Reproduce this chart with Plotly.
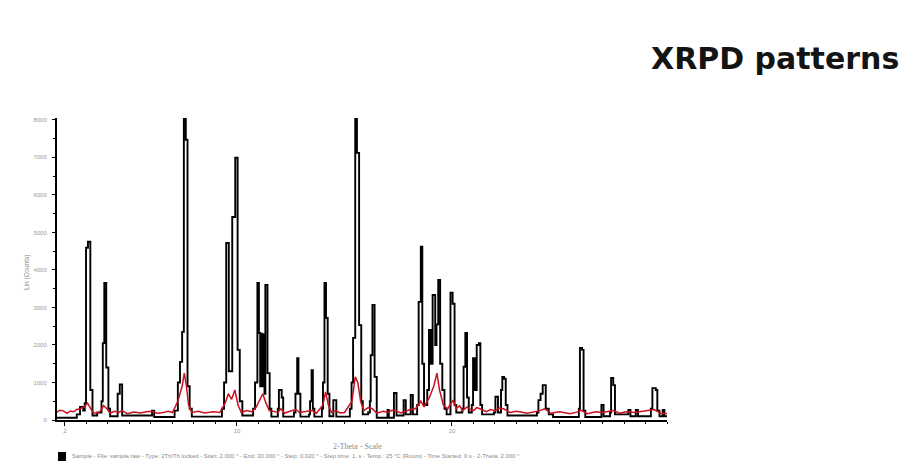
import plotly.graph_objects as go

# ---- data (2-theta in degrees, intensity in counts) ----
black_2theta = [1.60, 2.55, 2.70, 2.85, 2.92, 2.98, 3.07, 3.18, 3.28,
                3.50, 3.70, 3.76, 3.83, 3.92, 4.02, 4.10,
                4.45, 4.55, 4.66,
                6.05, 6.15,
                7.10, 7.25, 7.35, 7.45, 7.53, 7.62, 7.70, 7.80, 7.90,
                9.30, 9.40, 9.50, 9.62, 9.78, 9.92, 10.03, 10.13, 10.25,
                10.75, 10.84, 10.95, 11.02, 11.08, 11.12, 11.18, 11.22, 11.28, 11.32, 11.42, 11.52, 11.60,
                11.90, 11.95, 12.08, 12.15,
                12.65, 12.72, 12.80, 12.86, 12.95,
                13.35, 13.40, 13.47, 13.53, 13.60,
                13.95, 14.00, 14.07, 14.14, 14.22, 14.30,
                14.48, 14.62,
                15.25, 15.33, 15.40, 15.50, 15.58, 15.68, 15.78, 15.85,
                16.10, 16.18, 16.22, 16.30, 16.40, 16.50,
                17.00, 17.06, 17.30, 17.42, 17.75, 17.85, 18.08, 18.18,
                18.38, 18.45, 18.55, 18.62, 18.70,
                18.85, 18.93, 19.02, 19.10, 19.22, 19.28, 19.36, 19.45, 19.55, 19.65,
                19.75, 19.93, 20.03, 20.12, 20.20,
                20.48, 20.54, 20.62, 20.70, 20.78,
                20.92, 20.98, 21.06, 21.15, 21.25, 21.32, 21.40,
                21.95, 22.02, 22.14, 22.28, 22.34, 22.42, 22.50, 22.58,
                23.95, 24.02, 24.12, 24.22, 24.36, 24.50, 24.70,
                25.90, 25.95, 26.05, 26.12, 26.20,
                26.95, 27.05, 27.35, 27.40, 27.50, 27.58,
                28.20, 28.30, 28.55, 28.65,
                29.25, 29.32, 29.48, 29.55, 29.65, 29.80, 29.88, 30.00]
black_counts = [60, 150, 350, 250, 450, 4590, 4750, 800, 120,
                200, 500, 2050, 3650, 1400, 300, 100,
                700, 950, 120,
                250, 80,
                250, 1000, 1550, 2350, 8050, 7470, 900, 300, 90,
                300, 1000, 4720, 1300, 5410, 6990, 1870, 500, 120,
                300, 1000, 3650, 2320, 900, 2300, 900, 2280, 700, 3600, 1250, 300, 90,
                300, 800, 600, 90,
                200, 700, 1650, 700, 90,
                150, 500, 1330, 300, 90,
                300, 1000, 3650, 2720, 700, 100,
                530, 90,
                300, 1000, 2190, 8050, 7120, 2530, 500, 150,
                200, 500, 1730, 3070, 1150, 60,
                270, 60, 720, 120, 530, 150, 670, 150,
                400, 3150, 4620, 1500, 400,
                800, 2400, 1500, 3330, 2000, 2550, 3730, 1500, 800, 300,
                150, 3390, 3100, 400, 200,
                300, 1420, 2320, 600, 200,
                400, 1650, 800, 2000, 2050, 400, 150,
                200, 620, 200, 800, 1150, 1100, 400, 120,
                200, 530, 700, 930, 300, 150, 80,
                300, 1920, 1870, 250, 80,
                400, 100, 200, 1120, 930, 150,
                270, 100, 270, 100,
                300, 850, 800, 250, 100, 270, 100, 100]

red_2theta = [1.6, 1.75, 1.9, 2.1, 2.25, 2.4, 2.55, 2.7, 2.9, 3.05, 3.2, 3.35, 3.6, 3.8, 3.95, 4.1,
              4.3, 4.5, 4.65, 4.9, 5.2, 5.5, 5.8, 6.0, 6.3, 6.5, 6.8, 7.0, 7.25, 7.45, 7.55, 7.65,
              7.75, 7.9, 8.2, 8.5, 8.9, 9.2, 9.45, 9.6, 9.75, 9.9, 10.05, 10.2, 10.45, 10.7, 10.9,
              11.05, 11.2, 11.35, 11.5, 11.7, 11.9, 12.05, 12.2, 12.5, 12.75, 12.9, 13.2, 13.5,
              13.7, 14.0, 14.12, 14.25, 14.4, 14.6, 14.8, 15.0, 15.35, 15.5, 15.62, 15.75, 15.9,
              16.1, 16.3, 16.5, 16.8, 17.0, 17.2, 17.4, 17.6, 17.8, 18.05, 18.3, 18.55, 18.7,
              18.95, 19.15, 19.3, 19.42, 19.6, 19.8, 20.05, 20.2, 20.35, 20.5, 20.7, 20.85, 21.0,
              21.15, 21.3, 21.6, 21.8, 22.0, 22.2, 22.4, 22.7, 23.0, 23.5, 23.8, 24.1, 24.3, 24.6,
              25.0, 25.5, 25.8, 26.0, 26.3, 26.7, 27.0, 27.25, 27.5, 27.8, 28.1, 28.5, 28.9,
              29.4, 29.7, 30.0]
red_counts = [200, 260, 250, 180, 240, 220, 280, 300, 350, 450, 300, 180, 200, 380, 300, 180,
              230, 200, 250, 170, 210, 190, 220, 230, 180, 190, 230, 200, 500, 900, 1250, 900,
              400, 200, 230, 190, 220, 200, 450, 700, 550, 800, 400, 200, 250, 220, 350,
              550, 700, 450, 250, 230, 200, 300, 180, 240, 280, 200, 230, 250,
              180, 400, 750, 400, 200, 250, 190, 200, 500, 1150, 1000, 500, 250,
              330, 300, 180, 230, 200, 260, 250, 190, 220, 280, 300, 500, 350,
              600, 900, 1250, 800, 400, 300, 530, 300, 380, 250, 350, 280, 250,
              330, 300, 220, 280, 250, 320, 300, 200, 230, 180, 220, 250, 300, 180,
              220, 170, 210, 260, 170, 220, 200, 230, 250, 180, 220, 200, 230,
              280, 180, 170]

x_tick_vals = [2, 10, 20]
y_tick_vals = [0, 1000, 2000, 3000, 4000, 5000, 6000, 7000, 8000]
title_text = "XRPD patterns"
x_title = "2-Theta - Scale"
y_title = "Lin (Counts)"
legend_text = ("Sample - File: sample.raw - Type: 2Th/Th locked - Start: 2.000 ° - End: 30.000 ° - "
               "Step: 0.020 ° - Step time: 1. s - Temp.: 25 °C (Room) - Time Started: 0 s - 2-Theta: 2.000 °")

fig = go.Figure()
fig.add_trace(go.Scatter(x=black_2theta, y=black_counts, mode="lines",
                         line=dict(color="#000000", width=1.9, shape="hv"),
                         showlegend=False, hoverinfo="x+y"))
fig.add_trace(go.Scatter(x=red_2theta, y=red_counts, mode="lines",
                         line=dict(color="#cc1020", width=1.5),
                         showlegend=False, hoverinfo="x+y"))

fig.update_layout(
    width=911, height=462,
    margin=dict(l=57, r=244, t=118, b=42, autoexpand=False),
    paper_bgcolor="white", plot_bgcolor="white",
    font=dict(family="Liberation Sans, Arial, sans-serif"),
    xaxis=dict(range=[1.63, 30.0], tickvals=x_tick_vals, ticktext=[str(v) for v in x_tick_vals],
               showgrid=False, zeroline=False, showline=True, linecolor="black", linewidth=2,
               ticks="outside", ticklen=4, tickwidth=1, tickcolor="black",
               minor=dict(dtick=1, tick0=0, ticks="outside", ticklen=2, tickcolor="black"),
               tickfont=dict(size=6, color="#999999")),
    yaxis=dict(range=[0, 8050], tickvals=y_tick_vals, ticktext=[str(v) for v in y_tick_vals],
               showgrid=False, zeroline=False, showline=True, linecolor="black", linewidth=2,
               ticks="outside", ticklen=3, tickwidth=1, tickcolor="black",
               minor=dict(dtick=500, tick0=0, ticks="outside", ticklen=2, tickcolor="black"),
               tickfont=dict(size=6, color="#999999"), ticklabelstandoff=4),
    annotations=[
        dict(text=title_text, xref="paper", yref="paper", x=(775 - 57) / 610, y=(420 - 58) / 302,
             xanchor="center", yanchor="middle", showarrow=False,
             font=dict(family="DejaVu Sans, sans-serif", size=30, color="#141414", weight="bold")),
        dict(text=x_title, xref="paper", yref="paper", x=(357 - 57) / 610, y=(420 - 446) / 302,
             xanchor="center", yanchor="middle", showarrow=False,
             font=dict(family="Liberation Serif, serif", size=8, color="#8a8a8a")),
        dict(text=y_title, xref="paper", yref="paper", x=(27 - 57) / 610, y=(420 - 273) / 302,
             xanchor="center", yanchor="middle", showarrow=False, textangle=-90,
             font=dict(size=6.5, color="#8a8a8a")),
        dict(text=legend_text, xref="paper", yref="paper", x=(70 - 57) / 610, y=(420 - 456) / 302,
             xanchor="left", yanchor="middle", showarrow=False,
             font=dict(size=5.9, color="#8a8a8a")),
    ],
    shapes=[
        dict(type="rect", xref="paper", yref="paper",
             x0=(58 - 57) / 610, x1=(66 - 57) / 610, y0=(420 - 461) / 302, y1=(420 - 452) / 302,
             fillcolor="black", line=dict(width=0)),
    ],
)

fig.write_html("out.html", config={"displayModeBar": False},
               post_script="document.body.style.margin='0';")
